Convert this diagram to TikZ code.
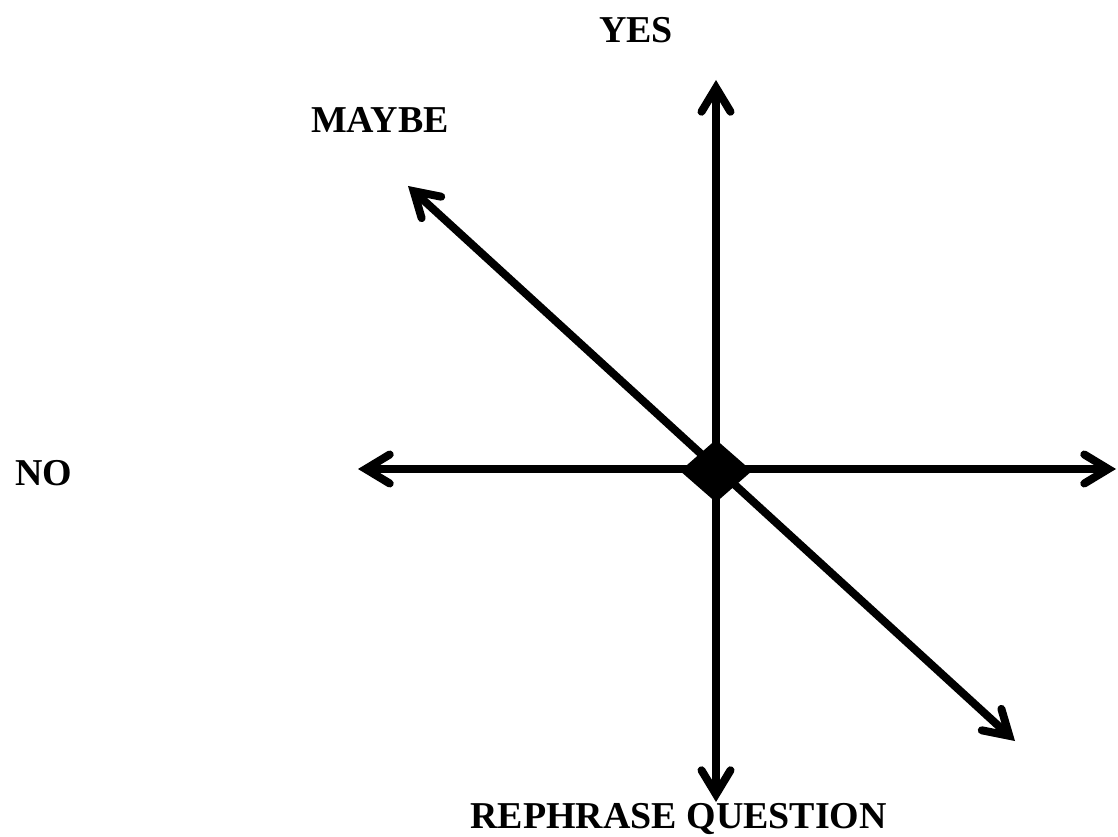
\documentclass[tikz,border=0pt]{standalone}
\usepackage{fontspec}
\setmainfont{Liberation Serif}
\usetikzlibrary{arrows.meta,shapes.geometric}

\begin{document}
\begin{tikzpicture}[
  x=0.02cm,y=-0.02cm,
  answer/.style={font=\fontsize{21.6}{26}\selectfont\bfseries,inner sep=0pt,anchor=base},
  barb/.tip={Straight Barb[length=0.48cm,width=0.58cm,line cap=round]},
  axis/.style={line width=0.16cm,{barb}-{barb}},
  hub/.style={diamond,fill=black,inner sep=0pt,minimum width=1.44cm,minimum height=1.26cm},
]
\useasboundingbox (0,0) rectangle (1118,837);
% ends of the three axes
\coordinate (top) at (716,80);
\coordinate (bottom) at (716,802);
\coordinate (left) at (358,469);
\coordinate (right) at (1116,469);
\coordinate (upleft) at (408,186);
\coordinate (downright) at (1015,741);
\draw[axis] (upleft) -- (downright);
\draw[axis] (left) -- (right);
\draw[axis] (top) -- (bottom);
\node[hub] (hub) at (716,471) {};
% answers
\node[answer] (yes) at (636,43) {YES};
\node[answer] (maybe) at (380,133) {MAYBE};
\node[answer] (no) at (44,485) {NO};
\node[answer,anchor=base west] (rephrase) at (470,828) {REPHRASE QUESTION};
\end{tikzpicture}
\end{document}
